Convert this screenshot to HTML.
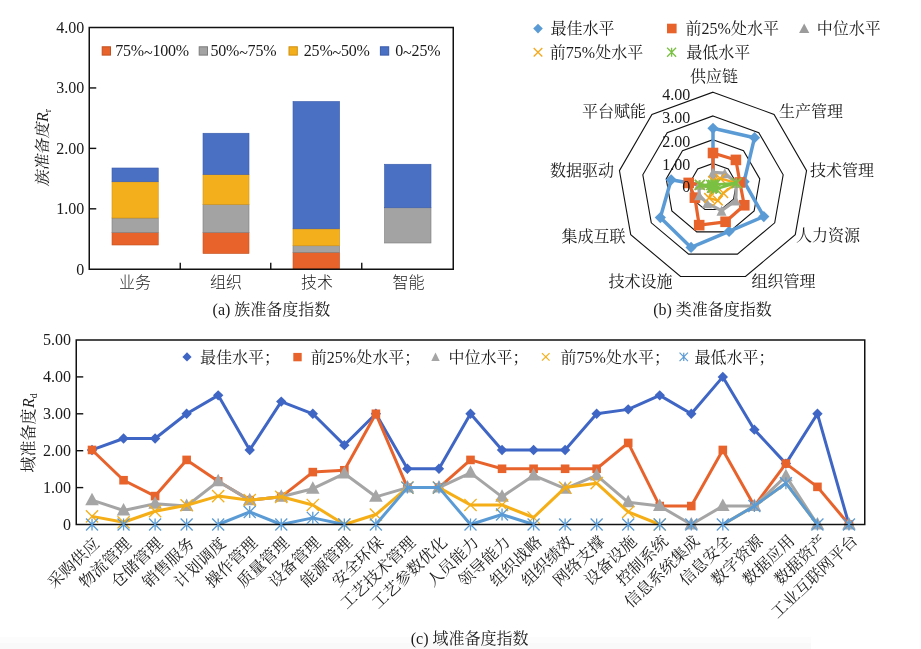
<!DOCTYPE html>
<html lang="zh-CN"><head><meta charset="utf-8"><title>准备度指数</title>
<style>
html,body{margin:0;padding:0;background:#fff;}
body{width:921px;height:649px;overflow:hidden;}
svg{display:block;}
.se{font-family:"Liberation Serif", "Noto Serif CJK SC", serif;}
.sa{font-family:"Liberation Sans", "Noto Sans CJK SC", sans-serif;}
</style></head><body>
<svg width="921" height="649" viewBox="0 0 921 649">
<rect width="921" height="649" fill="#ffffff"/>
<rect x="0" y="637" width="811" height="12" fill="#fcfcfc"/>
<rect x="0" y="643" width="811" height="6" fill="#f9f9f9"/>
<rect x="112.00" y="232.50" width="46.25" height="12.50" fill="#E8632C" stroke="#C4501E" stroke-width="0.6"/>
<rect x="112.00" y="218.00" width="46.25" height="14.50" fill="#A3A3A3" stroke="#7C7C7C" stroke-width="0.6"/>
<rect x="112.00" y="181.75" width="46.25" height="36.25" fill="#F4AF1D" stroke="#CF9010" stroke-width="0.6"/>
<rect x="112.00" y="168.00" width="46.25" height="13.75" fill="#4A70C4" stroke="#3A5BAA" stroke-width="0.6"/>
<rect x="203.00" y="232.50" width="46.00" height="21.00" fill="#E8632C" stroke="#C4501E" stroke-width="0.6"/>
<rect x="203.00" y="204.50" width="46.00" height="28.00" fill="#A3A3A3" stroke="#7C7C7C" stroke-width="0.6"/>
<rect x="203.00" y="174.50" width="46.00" height="30.00" fill="#F4AF1D" stroke="#CF9010" stroke-width="0.6"/>
<rect x="203.00" y="133.25" width="46.00" height="41.25" fill="#4A70C4" stroke="#3A5BAA" stroke-width="0.6"/>
<rect x="293.00" y="252.40" width="46.60" height="16.60" fill="#E8632C" stroke="#C4501E" stroke-width="0.6"/>
<rect x="293.00" y="245.75" width="46.60" height="6.65" fill="#A3A3A3" stroke="#7C7C7C" stroke-width="0.6"/>
<rect x="293.00" y="228.80" width="46.60" height="16.95" fill="#F4AF1D" stroke="#CF9010" stroke-width="0.6"/>
<rect x="293.00" y="101.50" width="46.60" height="127.30" fill="#4A70C4" stroke="#3A5BAA" stroke-width="0.6"/>
<rect x="384.50" y="207.75" width="46.50" height="35.25" fill="#A3A3A3" stroke="#7C7C7C" stroke-width="0.6"/>
<rect x="384.50" y="164.25" width="46.50" height="43.50" fill="#4A70C4" stroke="#3A5BAA" stroke-width="0.6"/>
<rect x="89.25" y="27.5" width="364.0" height="241.75" fill="none" stroke="#111111" stroke-width="1.5"/>
<text class="se" x="84.30" y="274.65" font-size="16" text-anchor="end" fill="#1a1a1a">0</text>
<line x1="89.25" y1="208.81" x2="96.25" y2="208.81" stroke="#111111" stroke-width="1.4"/>
<text class="se" x="84.30" y="214.21" font-size="16" text-anchor="end" fill="#1a1a1a">1.00</text>
<line x1="89.25" y1="148.38" x2="96.25" y2="148.38" stroke="#111111" stroke-width="1.4"/>
<text class="se" x="84.30" y="153.78" font-size="16" text-anchor="end" fill="#1a1a1a">2.00</text>
<line x1="89.25" y1="87.94" x2="96.25" y2="87.94" stroke="#111111" stroke-width="1.4"/>
<text class="se" x="84.30" y="93.34" font-size="16" text-anchor="end" fill="#1a1a1a">3.00</text>
<text class="se" x="84.30" y="32.90" font-size="16" text-anchor="end" fill="#1a1a1a">4.00</text>
<line x1="180.25" y1="269.25" x2="180.25" y2="262.75" stroke="#111111" stroke-width="1.4"/>
<line x1="270.75" y1="269.25" x2="270.75" y2="262.75" stroke="#111111" stroke-width="1.4"/>
<line x1="361.75" y1="269.25" x2="361.75" y2="262.75" stroke="#111111" stroke-width="1.4"/>
<text class="sa" x="135.00" y="288.30" font-size="16" text-anchor="middle" fill="#1a1a1a" font-weight="300">业务</text>
<text class="sa" x="226.00" y="288.30" font-size="16" text-anchor="middle" fill="#1a1a1a" font-weight="300">组织</text>
<text class="sa" x="317.00" y="288.30" font-size="16" text-anchor="middle" fill="#1a1a1a" font-weight="300">技术</text>
<text class="sa" x="408.50" y="288.30" font-size="16" text-anchor="middle" fill="#1a1a1a" font-weight="300">智能</text>
<rect x="102.2" y="46.8" width="8.3" height="8.3" fill="#E8632C" stroke="#C4501E" stroke-width="1"/>
<text class="se" x="115.20" y="55.90" font-size="16" text-anchor="start" fill="#1a1a1a" letter-spacing="-0.2">75%<tspan dy="2.2">~</tspan><tspan dy="-2.2">100%</tspan></text>
<rect x="199.2" y="46.8" width="8.3" height="8.3" fill="#A3A3A3" stroke="#7C7C7C" stroke-width="1"/>
<text class="se" x="210.40" y="55.90" font-size="16" text-anchor="start" fill="#1a1a1a" letter-spacing="-0.2">50%<tspan dy="2.2">~</tspan><tspan dy="-2.2">75%</tspan></text>
<rect x="289" y="46.8" width="8.3" height="8.3" fill="#F4AF1D" stroke="#CF9010" stroke-width="1"/>
<text class="se" x="303.80" y="55.90" font-size="16" text-anchor="start" fill="#1a1a1a" letter-spacing="-0.2">25%<tspan dy="2.2">~</tspan><tspan dy="-2.2">50%</tspan></text>
<rect x="380.4" y="46.8" width="8.3" height="8.3" fill="#4A70C4" stroke="#3A5BAA" stroke-width="1"/>
<text class="se" x="395.30" y="55.90" font-size="16" text-anchor="start" fill="#1a1a1a" letter-spacing="-0.2">0<tspan dy="2.2">~</tspan><tspan dy="-2.2">25%</tspan></text>
<g transform="translate(47.5,147) rotate(-90)" fill="#1a1a1a" font-size="16"><text class="se" transform="skewX(-11)" x="-39.5" y="0">族准备度</text><text class="se" x="25" y="0"><tspan font-style="italic">R</tspan><tspan font-size="10" dy="3">r</tspan></text></g>
<text class="se" x="271.50" y="315.00" font-size="16" text-anchor="middle" fill="#1a1a1a">(a) 族准备度指数</text>
<polygon points="713.00,163.45 728.27,169.01 736.39,183.08 733.57,199.07 721.12,209.52 704.88,209.52 692.43,199.07 689.61,183.08 697.73,169.01" fill="none" stroke="#111111" stroke-width="1.1"/>
<polygon points="713.00,139.70 743.53,150.81 759.78,178.95 754.14,210.95 729.25,231.84 696.75,231.84 671.86,210.95 666.22,178.95 682.47,150.81" fill="none" stroke="#111111" stroke-width="1.1"/>
<polygon points="713.00,115.95 758.80,132.62 783.17,174.83 774.70,222.82 737.37,254.15 688.63,254.15 651.30,222.83 642.83,174.83 667.20,132.62" fill="none" stroke="#111111" stroke-width="1.1"/>
<polygon points="713.00,92.20 774.06,114.43 806.56,170.70 795.27,234.70 745.49,276.47 680.51,276.47 630.73,234.70 619.44,170.70 651.94,114.43" fill="none" stroke="#111111" stroke-width="1.1"/>
<polygon points="713.00,128.30 754.52,137.71 744.11,181.71 763.80,216.53 729.08,231.39 691.07,247.46 660.35,217.60 671.13,179.82 713.00,187.20" fill="none" stroke="#5B9BD5" stroke-width="3.5" stroke-linejoin="round"/>
<path d="M713.00 122.70L718.60 128.30L713.00 133.90L707.40 128.30Z" fill="#5B9BD5"/>
<path d="M754.52 132.11L760.12 137.71L754.52 143.31L748.92 137.71Z" fill="#5B9BD5"/>
<path d="M744.11 176.11L749.71 181.71L744.11 187.31L738.51 181.71Z" fill="#5B9BD5"/>
<path d="M763.80 210.93L769.40 216.53L763.80 222.13L758.20 216.53Z" fill="#5B9BD5"/>
<path d="M729.08 225.79L734.68 231.39L729.08 236.99L723.48 231.39Z" fill="#5B9BD5"/>
<path d="M691.07 241.86L696.67 247.46L691.07 253.06L685.47 247.46Z" fill="#5B9BD5"/>
<path d="M660.35 212.00L665.95 217.60L660.35 223.20L654.75 217.60Z" fill="#5B9BD5"/>
<path d="M671.13 174.22L676.73 179.82L671.13 185.42L665.53 179.82Z" fill="#5B9BD5"/>
<path d="M713.00 181.60L718.60 187.20L713.00 192.80L707.40 187.20Z" fill="#5B9BD5"/>
<polygon points="713.00,153.00 735.90,159.91 739.90,182.46 744.26,205.25 725.59,221.79 699.19,225.14 694.90,197.65 688.68,182.91 713.00,187.20" fill="none" stroke="#E8632C" stroke-width="3.2" stroke-linejoin="round"/>
<rect x="707.70" y="147.70" width="10.60" height="10.60" fill="#E8632C"/>
<rect x="730.60" y="154.61" width="10.60" height="10.60" fill="#E8632C"/>
<rect x="734.60" y="177.16" width="10.60" height="10.60" fill="#E8632C"/>
<rect x="738.96" y="199.95" width="10.60" height="10.60" fill="#E8632C"/>
<rect x="720.29" y="216.49" width="10.60" height="10.60" fill="#E8632C"/>
<rect x="693.89" y="219.84" width="10.60" height="10.60" fill="#E8632C"/>
<rect x="689.60" y="192.35" width="10.60" height="10.60" fill="#E8632C"/>
<rect x="683.38" y="177.61" width="10.60" height="10.60" fill="#E8632C"/>
<rect x="707.70" y="181.90" width="10.60" height="10.60" fill="#E8632C"/>
<polygon points="713.00,172.47 724.75,173.19 736.39,183.08 735.83,200.38 721.53,210.63 707.15,203.27 699.22,195.16 698.97,184.73 713.00,187.20" fill="none" stroke="#A5A5A5" stroke-width="3.2" stroke-linejoin="round"/>
<path d="M713.00 167.47L718.00 177.47L708.00 177.47Z" fill="#A5A5A5"/>
<path d="M724.75 168.19L729.75 178.19L719.75 178.19Z" fill="#A5A5A5"/>
<path d="M736.39 178.08L741.39 188.08L731.39 188.08Z" fill="#A5A5A5"/>
<path d="M735.83 195.38L740.83 205.38L730.83 205.38Z" fill="#A5A5A5"/>
<path d="M721.53 205.63L726.53 215.63L716.53 215.63Z" fill="#A5A5A5"/>
<path d="M707.15 198.27L712.15 208.27L702.15 208.27Z" fill="#A5A5A5"/>
<path d="M699.22 190.16L704.22 200.16L694.22 200.16Z" fill="#A5A5A5"/>
<path d="M698.97 179.73L703.97 189.73L693.97 189.73Z" fill="#A5A5A5"/>
<path d="M713.00 182.20L718.00 192.20L708.00 192.20Z" fill="#A5A5A5"/>
<polygon points="713.00,180.79 720.33,178.47 736.39,183.08 723.28,193.14 717.87,200.59 709.10,197.91 713.00,187.20 699.90,184.89 713.00,187.20" fill="none" stroke="#F5A81C" stroke-width="2.4" stroke-linejoin="round"/>
<path d="M708.20 175.99L717.80 185.59M708.20 185.59L717.80 175.99" stroke="#F5A81C" stroke-width="1.5" fill="none"/>
<path d="M715.53 173.67L725.13 183.27M715.53 183.27L725.13 173.67" stroke="#F5A81C" stroke-width="1.5" fill="none"/>
<path d="M731.59 178.28L741.19 187.88M731.59 187.88L741.19 178.28" stroke="#F5A81C" stroke-width="1.5" fill="none"/>
<path d="M718.48 188.34L728.08 197.94M718.48 197.94L728.08 188.34" stroke="#F5A81C" stroke-width="1.5" fill="none"/>
<path d="M713.07 195.79L722.67 205.39M713.07 205.39L722.67 195.79" stroke="#F5A81C" stroke-width="1.5" fill="none"/>
<path d="M704.30 193.11L713.90 202.71M704.30 202.71L713.90 193.11" stroke="#F5A81C" stroke-width="1.5" fill="none"/>
<path d="M708.20 182.40L717.80 192.00M708.20 192.00L717.80 182.40" stroke="#F5A81C" stroke-width="1.5" fill="none"/>
<path d="M695.10 180.09L704.70 189.69M695.10 189.69L704.70 180.09" stroke="#F5A81C" stroke-width="1.5" fill="none"/>
<path d="M708.20 182.40L717.80 192.00M708.20 192.00L717.80 182.40" stroke="#F5A81C" stroke-width="1.5" fill="none"/>
<polygon points="713.00,184.82 715.29,184.47 736.39,183.08 716.09,188.98 713.00,187.20 713.00,187.20 711.97,187.79 699.90,184.89 711.17,185.02" fill="none" stroke="#7AC143" stroke-width="2.6" stroke-linejoin="round"/>
<path d="M708.00 179.82L718.00 189.82M708.00 189.82L718.00 179.82M713.00 179.82L713.00 189.82" stroke="#7AC143" stroke-width="1.6" fill="none"/>
<path d="M710.29 179.47L720.29 189.47M710.29 189.47L720.29 179.47M715.29 179.47L715.29 189.47" stroke="#7AC143" stroke-width="1.6" fill="none"/>
<path d="M731.39 178.08L741.39 188.08M731.39 188.08L741.39 178.08M736.39 178.08L736.39 188.08" stroke="#7AC143" stroke-width="1.6" fill="none"/>
<path d="M711.09 183.98L721.09 193.98M711.09 193.98L721.09 183.98M716.09 183.98L716.09 193.98" stroke="#7AC143" stroke-width="1.6" fill="none"/>
<path d="M708.00 182.20L718.00 192.20M708.00 192.20L718.00 182.20M713.00 182.20L713.00 192.20" stroke="#7AC143" stroke-width="1.6" fill="none"/>
<path d="M708.00 182.20L718.00 192.20M708.00 192.20L718.00 182.20M713.00 182.20L713.00 192.20" stroke="#7AC143" stroke-width="1.6" fill="none"/>
<path d="M706.97 182.79L716.97 192.79M706.97 192.79L716.97 182.79M711.97 182.79L711.97 192.79" stroke="#7AC143" stroke-width="1.6" fill="none"/>
<path d="M694.90 179.89L704.90 189.89M694.90 189.89L704.90 179.89M699.90 179.89L699.90 189.89" stroke="#7AC143" stroke-width="1.6" fill="none"/>
<path d="M706.17 180.02L716.17 190.02M706.17 190.02L716.17 180.02M711.17 180.02L711.17 190.02" stroke="#7AC143" stroke-width="1.6" fill="none"/>
<text class="se" x="690.30" y="100.40" font-size="16" text-anchor="end" fill="#1a1a1a">4.00</text>
<text class="se" x="690.30" y="123.40" font-size="16" text-anchor="end" fill="#1a1a1a">3.00</text>
<text class="se" x="690.30" y="147.00" font-size="16" text-anchor="end" fill="#1a1a1a">2.00</text>
<text class="se" x="690.30" y="169.80" font-size="16" text-anchor="end" fill="#1a1a1a">1.00</text>
<text class="se" x="690.30" y="192.30" font-size="16" text-anchor="end" fill="#1a1a1a">0</text>
<text class="se" x="714.00" y="81.80" font-size="16" text-anchor="middle" fill="#1a1a1a">供应链</text>
<text class="se" x="779.00" y="116.80" font-size="16" text-anchor="start" fill="#1a1a1a">生产管理</text>
<text class="se" x="810.00" y="175.80" font-size="16" text-anchor="start" fill="#1a1a1a">技术管理</text>
<text class="se" x="796.00" y="241.30" font-size="16" text-anchor="start" fill="#1a1a1a">人力资源</text>
<text class="se" x="751.50" y="287.30" font-size="16" text-anchor="start" fill="#1a1a1a">组织管理</text>
<text class="se" x="672.50" y="287.30" font-size="16" text-anchor="end" fill="#1a1a1a">技术设施</text>
<text class="se" x="625.50" y="242.30" font-size="16" text-anchor="end" fill="#1a1a1a">集成互联</text>
<text class="se" x="614.00" y="175.80" font-size="16" text-anchor="end" fill="#1a1a1a">数据驱动</text>
<text class="se" x="646.00" y="116.80" font-size="16" text-anchor="end" fill="#1a1a1a">平台赋能</text>
<path d="M538.00 23.80L542.80 28.60L538.00 33.40L533.20 28.60Z" fill="#5B9BD5"/>
<text class="se" x="550.60" y="34.00" font-size="16" text-anchor="start" fill="#1a1a1a">最佳水平</text>
<rect x="667.00" y="23.70" width="9.60" height="9.60" fill="#E8632C"/>
<text class="se" x="685.60" y="34.00" font-size="16" text-anchor="start" fill="#1a1a1a">前25%处水平</text>
<path d="M804.2 23.4L809.3 33.1L799.1 33.1Z" fill="#9b9b9b"/>
<text class="se" x="816.70" y="34.00" font-size="16" text-anchor="start" fill="#1a1a1a">中位水平</text>
<path d="M533.70 47.95L542.30 56.55M533.70 56.55L542.30 47.95" stroke="#F5A81C" stroke-width="1.3" fill="none"/>
<text class="se" x="549.80" y="57.60" font-size="16" text-anchor="start" fill="#1a1a1a">前75%处水平</text>
<path d="M667.10 47.75L676.10 56.75M667.10 56.75L676.10 47.75M671.60 47.75L671.60 56.75" stroke="#7AC143" stroke-width="1.3" fill="none"/>
<text class="se" x="686.20" y="57.60" font-size="16" text-anchor="start" fill="#1a1a1a">最低水平</text>
<text class="se" x="712.50" y="315.30" font-size="16" text-anchor="middle" fill="#1a1a1a">(b) 类准备度指数</text>
<path d="M92.02 449.96L123.56 438.52L155.10 438.52L186.64 413.80L218.18 395.35L249.72 449.96L281.26 401.62L312.80 413.80L344.34 445.17L375.88 413.80L407.42 468.78L438.96 468.78L470.50 413.80L502.04 449.96L533.58 449.96L565.12 449.96L596.66 413.80L628.20 409.37L659.74 395.35L691.28 413.80L722.82 376.90L754.36 429.67L785.90 463.62L817.44 413.80L848.98 524.50" fill="none" stroke="#3F66C4" stroke-width="3" stroke-linejoin="round"/>
<path d="M92.02 444.76L97.22 449.96L92.02 455.16L86.82 449.96Z" fill="#3F66C4"/>
<path d="M123.56 433.32L128.76 438.52L123.56 443.72L118.36 438.52Z" fill="#3F66C4"/>
<path d="M155.10 433.32L160.30 438.52L155.10 443.72L149.90 438.52Z" fill="#3F66C4"/>
<path d="M186.64 408.60L191.84 413.80L186.64 419.00L181.44 413.80Z" fill="#3F66C4"/>
<path d="M218.18 390.15L223.38 395.35L218.18 400.55L212.98 395.35Z" fill="#3F66C4"/>
<path d="M249.72 444.76L254.92 449.96L249.72 455.16L244.52 449.96Z" fill="#3F66C4"/>
<path d="M281.26 396.42L286.46 401.62L281.26 406.82L276.06 401.62Z" fill="#3F66C4"/>
<path d="M312.80 408.60L318.00 413.80L312.80 419.00L307.60 413.80Z" fill="#3F66C4"/>
<path d="M344.34 439.97L349.54 445.17L344.34 450.37L339.14 445.17Z" fill="#3F66C4"/>
<path d="M375.88 408.60L381.08 413.80L375.88 419.00L370.68 413.80Z" fill="#3F66C4"/>
<path d="M407.42 463.58L412.62 468.78L407.42 473.98L402.22 468.78Z" fill="#3F66C4"/>
<path d="M438.96 463.58L444.16 468.78L438.96 473.98L433.76 468.78Z" fill="#3F66C4"/>
<path d="M470.50 408.60L475.70 413.80L470.50 419.00L465.30 413.80Z" fill="#3F66C4"/>
<path d="M502.04 444.76L507.24 449.96L502.04 455.16L496.84 449.96Z" fill="#3F66C4"/>
<path d="M533.58 444.76L538.78 449.96L533.58 455.16L528.38 449.96Z" fill="#3F66C4"/>
<path d="M565.12 444.76L570.32 449.96L565.12 455.16L559.92 449.96Z" fill="#3F66C4"/>
<path d="M596.66 408.60L601.86 413.80L596.66 419.00L591.46 413.80Z" fill="#3F66C4"/>
<path d="M628.20 404.17L633.40 409.37L628.20 414.57L623.00 409.37Z" fill="#3F66C4"/>
<path d="M659.74 390.15L664.94 395.35L659.74 400.55L654.54 395.35Z" fill="#3F66C4"/>
<path d="M691.28 408.60L696.48 413.80L691.28 419.00L686.08 413.80Z" fill="#3F66C4"/>
<path d="M722.82 371.70L728.02 376.90L722.82 382.10L717.62 376.90Z" fill="#3F66C4"/>
<path d="M754.36 424.47L759.56 429.67L754.36 434.87L749.16 429.67Z" fill="#3F66C4"/>
<path d="M785.90 458.42L791.10 463.62L785.90 468.81L780.70 463.62Z" fill="#3F66C4"/>
<path d="M817.44 408.60L822.64 413.80L817.44 419.00L812.24 413.80Z" fill="#3F66C4"/>
<path d="M848.98 519.30L854.18 524.50L848.98 529.70L843.78 524.50Z" fill="#3F66C4"/>
<path d="M92.02 449.96L123.56 480.22L155.10 496.09L186.64 459.93L218.18 481.33L249.72 500.15L281.26 496.82L312.80 472.10L344.34 470.26L375.88 413.80L407.42 487.60L438.96 487.60L470.50 459.93L502.04 468.78L533.58 468.78L565.12 468.78L596.66 468.78L628.20 442.95L659.74 506.05L691.28 506.05L722.82 449.96L754.36 506.05L785.90 463.62L817.44 486.86L848.98 524.50" fill="none" stroke="#E8632C" stroke-width="3" stroke-linejoin="round"/>
<rect x="87.72" y="445.66" width="8.60" height="8.60" fill="#E8632C"/>
<rect x="119.26" y="475.92" width="8.60" height="8.60" fill="#E8632C"/>
<rect x="150.80" y="491.79" width="8.60" height="8.60" fill="#E8632C"/>
<rect x="182.34" y="455.62" width="8.60" height="8.60" fill="#E8632C"/>
<rect x="213.88" y="477.03" width="8.60" height="8.60" fill="#E8632C"/>
<rect x="245.42" y="495.85" width="8.60" height="8.60" fill="#E8632C"/>
<rect x="276.96" y="492.52" width="8.60" height="8.60" fill="#E8632C"/>
<rect x="308.50" y="467.80" width="8.60" height="8.60" fill="#E8632C"/>
<rect x="340.04" y="465.96" width="8.60" height="8.60" fill="#E8632C"/>
<rect x="371.58" y="409.50" width="8.60" height="8.60" fill="#E8632C"/>
<rect x="403.12" y="483.30" width="8.60" height="8.60" fill="#E8632C"/>
<rect x="434.66" y="483.30" width="8.60" height="8.60" fill="#E8632C"/>
<rect x="466.20" y="455.62" width="8.60" height="8.60" fill="#E8632C"/>
<rect x="497.74" y="464.48" width="8.60" height="8.60" fill="#E8632C"/>
<rect x="529.28" y="464.48" width="8.60" height="8.60" fill="#E8632C"/>
<rect x="560.82" y="464.48" width="8.60" height="8.60" fill="#E8632C"/>
<rect x="592.36" y="464.48" width="8.60" height="8.60" fill="#E8632C"/>
<rect x="623.90" y="438.65" width="8.60" height="8.60" fill="#E8632C"/>
<rect x="655.44" y="501.75" width="8.60" height="8.60" fill="#E8632C"/>
<rect x="686.98" y="501.75" width="8.60" height="8.60" fill="#E8632C"/>
<rect x="718.52" y="445.66" width="8.60" height="8.60" fill="#E8632C"/>
<rect x="750.06" y="501.75" width="8.60" height="8.60" fill="#E8632C"/>
<rect x="781.60" y="459.31" width="8.60" height="8.60" fill="#E8632C"/>
<rect x="813.14" y="482.56" width="8.60" height="8.60" fill="#E8632C"/>
<rect x="844.68" y="520.20" width="8.60" height="8.60" fill="#E8632C"/>
<path d="M92.02 500.15L123.56 510.48L155.10 503.84L186.64 506.05L218.18 481.33L249.72 500.15L281.26 496.82L312.80 488.71L344.34 473.58L375.88 496.82L407.42 487.60L438.96 487.60L470.50 472.84L502.04 496.82L533.58 475.42L565.12 488.71L596.66 475.42L628.20 502.36L659.74 506.05L691.28 524.50L722.82 506.05L754.36 506.05L785.90 476.16L817.44 524.50" fill="none" stroke="#A5A5A5" stroke-width="3" stroke-linejoin="round"/>
<path d="M92.02 492.65L98.82 505.15L85.22 505.15Z" fill="#A5A5A5"/>
<path d="M123.56 502.98L130.36 515.48L116.76 515.48Z" fill="#A5A5A5"/>
<path d="M155.10 496.34L161.90 508.84L148.30 508.84Z" fill="#A5A5A5"/>
<path d="M186.64 498.55L193.44 511.05L179.84 511.05Z" fill="#A5A5A5"/>
<path d="M218.18 473.83L224.98 486.33L211.38 486.33Z" fill="#A5A5A5"/>
<path d="M249.72 492.65L256.52 505.15L242.92 505.15Z" fill="#A5A5A5"/>
<path d="M281.26 489.32L288.06 501.82L274.46 501.82Z" fill="#A5A5A5"/>
<path d="M312.80 481.21L319.60 493.71L306.00 493.71Z" fill="#A5A5A5"/>
<path d="M344.34 466.08L351.14 478.58L337.54 478.58Z" fill="#A5A5A5"/>
<path d="M375.88 489.32L382.68 501.82L369.08 501.82Z" fill="#A5A5A5"/>
<path d="M407.42 480.10L414.22 492.60L400.62 492.60Z" fill="#A5A5A5"/>
<path d="M438.96 480.10L445.76 492.60L432.16 492.60Z" fill="#A5A5A5"/>
<path d="M470.50 465.34L477.30 477.84L463.70 477.84Z" fill="#A5A5A5"/>
<path d="M502.04 489.32L508.84 501.82L495.24 501.82Z" fill="#A5A5A5"/>
<path d="M533.58 467.92L540.38 480.42L526.78 480.42Z" fill="#A5A5A5"/>
<path d="M565.12 481.21L571.92 493.71L558.32 493.71Z" fill="#A5A5A5"/>
<path d="M596.66 467.92L603.46 480.42L589.86 480.42Z" fill="#A5A5A5"/>
<path d="M628.20 494.86L635.00 507.36L621.40 507.36Z" fill="#A5A5A5"/>
<path d="M659.74 498.55L666.54 511.05L652.94 511.05Z" fill="#A5A5A5"/>
<path d="M691.28 517.00L698.08 529.50L684.48 529.50Z" fill="#A5A5A5"/>
<path d="M722.82 498.55L729.62 511.05L716.02 511.05Z" fill="#A5A5A5"/>
<path d="M754.36 498.55L761.16 511.05L747.56 511.05Z" fill="#A5A5A5"/>
<path d="M785.90 468.66L792.70 481.16L779.10 481.16Z" fill="#A5A5A5"/>
<path d="M817.44 517.00L824.24 529.50L810.64 529.50Z" fill="#A5A5A5"/>
<path d="M848.98 517.00L855.78 529.50L842.18 529.50Z" fill="#A5A5A5"/>
<path d="M92.02 516.38L123.56 522.29L155.10 511.22L186.64 505.31L218.18 496.09L249.72 500.15L281.26 496.82L312.80 504.94L344.34 524.50L375.88 514.54L407.42 487.60L438.96 487.60L470.50 504.94L502.04 504.94L533.58 517.49L565.12 487.60L596.66 483.17L628.20 511.95L659.74 524.50M722.82 524.50L754.36 506.05L785.90 483.17L817.44 524.50" fill="none" stroke="#F5AE16" stroke-width="3" stroke-linejoin="round"/>
<path d="M85.92 510.28L98.12 522.48M85.92 522.48L98.12 510.28" stroke="#F5AE16" stroke-width="1.3" fill="none"/>
<path d="M117.46 516.19L129.66 528.39M117.46 528.39L129.66 516.19" stroke="#F5AE16" stroke-width="1.3" fill="none"/>
<path d="M149.00 505.12L161.20 517.32M149.00 517.32L161.20 505.12" stroke="#F5AE16" stroke-width="1.3" fill="none"/>
<path d="M180.54 499.21L192.74 511.41M180.54 511.41L192.74 499.21" stroke="#F5AE16" stroke-width="1.3" fill="none"/>
<path d="M212.08 489.99L224.28 502.19M212.08 502.19L224.28 489.99" stroke="#F5AE16" stroke-width="1.3" fill="none"/>
<path d="M243.62 494.05L255.82 506.25M243.62 506.25L255.82 494.05" stroke="#F5AE16" stroke-width="1.3" fill="none"/>
<path d="M275.16 490.72L287.36 502.93M275.16 502.93L287.36 490.72" stroke="#F5AE16" stroke-width="1.3" fill="none"/>
<path d="M306.70 498.84L318.90 511.04M306.70 511.04L318.90 498.84" stroke="#F5AE16" stroke-width="1.3" fill="none"/>
<path d="M338.24 518.40L350.44 530.60M338.24 530.60L350.44 518.40" stroke="#F5AE16" stroke-width="1.3" fill="none"/>
<path d="M369.78 508.44L381.98 520.64M369.78 520.64L381.98 508.44" stroke="#F5AE16" stroke-width="1.3" fill="none"/>
<path d="M401.32 481.50L413.52 493.70M401.32 493.70L413.52 481.50" stroke="#F5AE16" stroke-width="1.3" fill="none"/>
<path d="M432.86 481.50L445.06 493.70M432.86 493.70L445.06 481.50" stroke="#F5AE16" stroke-width="1.3" fill="none"/>
<path d="M464.40 498.84L476.60 511.04M464.40 511.04L476.60 498.84" stroke="#F5AE16" stroke-width="1.3" fill="none"/>
<path d="M495.94 498.84L508.14 511.04M495.94 511.04L508.14 498.84" stroke="#F5AE16" stroke-width="1.3" fill="none"/>
<path d="M527.48 511.39L539.68 523.59M527.48 523.59L539.68 511.39" stroke="#F5AE16" stroke-width="1.3" fill="none"/>
<path d="M559.02 481.50L571.22 493.70M559.02 493.70L571.22 481.50" stroke="#F5AE16" stroke-width="1.3" fill="none"/>
<path d="M590.56 477.07L602.76 489.27M590.56 489.27L602.76 477.07" stroke="#F5AE16" stroke-width="1.3" fill="none"/>
<path d="M622.10 505.85L634.30 518.05M622.10 518.05L634.30 505.85" stroke="#F5AE16" stroke-width="1.3" fill="none"/>
<path d="M653.64 518.40L665.84 530.60M653.64 530.60L665.84 518.40" stroke="#F5AE16" stroke-width="1.3" fill="none"/>
<path d="M218.18 524.50L249.72 511.95L281.26 524.50L312.80 517.86L344.34 524.50M375.88 524.50L407.42 487.60L438.96 487.60L470.50 524.50L502.04 514.54L533.58 524.50M722.82 524.50L754.36 506.05L785.90 483.17L817.44 524.50" fill="none" stroke="#5B9BD5" stroke-width="3" stroke-linejoin="round"/>
<rect x="76.25" y="340" width="788.5" height="184.5" fill="none" stroke="#111111" stroke-width="1.5"/>
<path d="M86.02 518.50L98.02 530.50M86.02 530.50L98.02 518.50M92.02 518.50L92.02 530.50" stroke="#5B9BD5" stroke-width="1.3" fill="none"/>
<path d="M117.56 518.50L129.56 530.50M117.56 530.50L129.56 518.50M123.56 518.50L123.56 530.50" stroke="#5B9BD5" stroke-width="1.3" fill="none"/>
<path d="M149.10 518.50L161.10 530.50M149.10 530.50L161.10 518.50M155.10 518.50L155.10 530.50" stroke="#5B9BD5" stroke-width="1.3" fill="none"/>
<path d="M180.64 518.50L192.64 530.50M180.64 530.50L192.64 518.50M186.64 518.50L186.64 530.50" stroke="#5B9BD5" stroke-width="1.3" fill="none"/>
<path d="M212.18 518.50L224.18 530.50M212.18 530.50L224.18 518.50M218.18 518.50L218.18 530.50" stroke="#5B9BD5" stroke-width="1.3" fill="none"/>
<path d="M243.72 505.95L255.72 517.95M243.72 517.95L255.72 505.95M249.72 505.95L249.72 517.95" stroke="#5B9BD5" stroke-width="1.3" fill="none"/>
<path d="M275.26 518.50L287.26 530.50M275.26 530.50L287.26 518.50M281.26 518.50L281.26 530.50" stroke="#5B9BD5" stroke-width="1.3" fill="none"/>
<path d="M306.80 511.86L318.80 523.86M306.80 523.86L318.80 511.86M312.80 511.86L312.80 523.86" stroke="#5B9BD5" stroke-width="1.3" fill="none"/>
<path d="M338.34 518.50L350.34 530.50M338.34 530.50L350.34 518.50M344.34 518.50L344.34 530.50" stroke="#5B9BD5" stroke-width="1.3" fill="none"/>
<path d="M369.88 518.50L381.88 530.50M369.88 530.50L381.88 518.50M375.88 518.50L375.88 530.50" stroke="#5B9BD5" stroke-width="1.3" fill="none"/>
<path d="M401.42 481.60L413.42 493.60M401.42 493.60L413.42 481.60M407.42 481.60L407.42 493.60" stroke="#5B9BD5" stroke-width="1.3" fill="none"/>
<path d="M432.96 481.60L444.96 493.60M432.96 493.60L444.96 481.60M438.96 481.60L438.96 493.60" stroke="#5B9BD5" stroke-width="1.3" fill="none"/>
<path d="M464.50 518.50L476.50 530.50M464.50 530.50L476.50 518.50M470.50 518.50L470.50 530.50" stroke="#5B9BD5" stroke-width="1.3" fill="none"/>
<path d="M496.04 508.54L508.04 520.54M496.04 520.54L508.04 508.54M502.04 508.54L502.04 520.54" stroke="#5B9BD5" stroke-width="1.3" fill="none"/>
<path d="M527.58 518.50L539.58 530.50M527.58 530.50L539.58 518.50M533.58 518.50L533.58 530.50" stroke="#5B9BD5" stroke-width="1.3" fill="none"/>
<path d="M559.12 518.50L571.12 530.50M559.12 530.50L571.12 518.50M565.12 518.50L565.12 530.50" stroke="#5B9BD5" stroke-width="1.3" fill="none"/>
<path d="M590.66 518.50L602.66 530.50M590.66 530.50L602.66 518.50M596.66 518.50L596.66 530.50" stroke="#5B9BD5" stroke-width="1.3" fill="none"/>
<path d="M622.20 518.50L634.20 530.50M622.20 530.50L634.20 518.50M628.20 518.50L628.20 530.50" stroke="#5B9BD5" stroke-width="1.3" fill="none"/>
<path d="M653.74 518.50L665.74 530.50M653.74 530.50L665.74 518.50M659.74 518.50L659.74 530.50" stroke="#5B9BD5" stroke-width="1.3" fill="none"/>
<path d="M685.28 518.50L697.28 530.50M685.28 530.50L697.28 518.50M691.28 518.50L691.28 530.50" stroke="#5B9BD5" stroke-width="1.3" fill="none"/>
<path d="M716.82 518.50L728.82 530.50M716.82 530.50L728.82 518.50M722.82 518.50L722.82 530.50" stroke="#5B9BD5" stroke-width="1.3" fill="none"/>
<path d="M748.36 500.05L760.36 512.05M748.36 512.05L760.36 500.05M754.36 500.05L754.36 512.05" stroke="#5B9BD5" stroke-width="1.3" fill="none"/>
<path d="M779.90 477.17L791.90 489.17M779.90 489.17L791.90 477.17M785.90 477.17L785.90 489.17" stroke="#5B9BD5" stroke-width="1.3" fill="none"/>
<path d="M811.44 518.50L823.44 530.50M811.44 530.50L823.44 518.50M817.44 518.50L817.44 530.50" stroke="#5B9BD5" stroke-width="1.3" fill="none"/>
<path d="M842.98 518.50L854.98 530.50M842.98 530.50L854.98 518.50M848.98 518.50L848.98 530.50" stroke="#5B9BD5" stroke-width="1.3" fill="none"/>
<text class="se" x="71.00" y="529.90" font-size="16" text-anchor="end" fill="#1a1a1a">0</text>
<line x1="76.25" y1="487.60" x2="83.25" y2="487.60" stroke="#111111" stroke-width="1.4"/>
<text class="se" x="71.00" y="493.00" font-size="16" text-anchor="end" fill="#1a1a1a">1.00</text>
<line x1="76.25" y1="450.70" x2="83.25" y2="450.70" stroke="#111111" stroke-width="1.4"/>
<text class="se" x="71.00" y="456.10" font-size="16" text-anchor="end" fill="#1a1a1a">2.00</text>
<line x1="76.25" y1="413.80" x2="83.25" y2="413.80" stroke="#111111" stroke-width="1.4"/>
<text class="se" x="71.00" y="419.20" font-size="16" text-anchor="end" fill="#1a1a1a">3.00</text>
<line x1="76.25" y1="376.90" x2="83.25" y2="376.90" stroke="#111111" stroke-width="1.4"/>
<text class="se" x="71.00" y="382.30" font-size="16" text-anchor="end" fill="#1a1a1a">4.00</text>
<text class="se" x="71.00" y="345.40" font-size="16" text-anchor="end" fill="#1a1a1a">5.00</text>
<text class="se" transform="translate(100.52,545.00) rotate(-43.5)" font-size="16" text-anchor="end" fill="#1a1a1a">采购供应</text>
<text class="se" transform="translate(132.11,544.87) rotate(-43.5)" font-size="16" text-anchor="end" fill="#1a1a1a">物流管理</text>
<text class="se" transform="translate(163.70,544.73) rotate(-43.5)" font-size="16" text-anchor="end" fill="#1a1a1a">仓储管理</text>
<text class="se" transform="translate(195.29,544.60) rotate(-43.5)" font-size="16" text-anchor="end" fill="#1a1a1a">销售服务</text>
<text class="se" transform="translate(226.88,544.47) rotate(-43.5)" font-size="16" text-anchor="end" fill="#1a1a1a">计划调度</text>
<text class="se" transform="translate(258.47,544.33) rotate(-43.5)" font-size="16" text-anchor="end" fill="#1a1a1a">操作管理</text>
<text class="se" transform="translate(290.06,544.20) rotate(-43.5)" font-size="16" text-anchor="end" fill="#1a1a1a">质量管理</text>
<text class="se" transform="translate(321.65,544.07) rotate(-43.5)" font-size="16" text-anchor="end" fill="#1a1a1a">设备管理</text>
<text class="se" transform="translate(353.24,543.93) rotate(-43.5)" font-size="16" text-anchor="end" fill="#1a1a1a">能源管理</text>
<text class="se" transform="translate(384.83,543.80) rotate(-43.5)" font-size="16" text-anchor="end" fill="#1a1a1a">安全环保</text>
<text class="se" transform="translate(416.42,543.67) rotate(-43.5)" font-size="16" text-anchor="end" fill="#1a1a1a">工艺技术管理</text>
<text class="se" transform="translate(448.01,543.53) rotate(-43.5)" font-size="16" text-anchor="end" fill="#1a1a1a">工艺参数优化</text>
<text class="se" transform="translate(479.60,543.40) rotate(-43.5)" font-size="16" text-anchor="end" fill="#1a1a1a">人员能力</text>
<text class="se" transform="translate(511.19,543.27) rotate(-43.5)" font-size="16" text-anchor="end" fill="#1a1a1a">领导能力</text>
<text class="se" transform="translate(542.78,543.13) rotate(-43.5)" font-size="16" text-anchor="end" fill="#1a1a1a">组织战略</text>
<text class="se" transform="translate(574.37,543.00) rotate(-43.5)" font-size="16" text-anchor="end" fill="#1a1a1a">组织绩效</text>
<text class="se" transform="translate(605.96,542.87) rotate(-43.5)" font-size="16" text-anchor="end" fill="#1a1a1a">网络支撑</text>
<text class="se" transform="translate(637.55,542.73) rotate(-43.5)" font-size="16" text-anchor="end" fill="#1a1a1a">设备设施</text>
<text class="se" transform="translate(669.14,542.60) rotate(-43.5)" font-size="16" text-anchor="end" fill="#1a1a1a">控制系统</text>
<text class="se" transform="translate(700.73,542.47) rotate(-43.5)" font-size="16" text-anchor="end" fill="#1a1a1a">信息系统集成</text>
<text class="se" transform="translate(732.32,542.33) rotate(-43.5)" font-size="16" text-anchor="end" fill="#1a1a1a">信息安全</text>
<text class="se" transform="translate(763.91,542.20) rotate(-43.5)" font-size="16" text-anchor="end" fill="#1a1a1a">数字资源</text>
<text class="se" transform="translate(795.50,542.07) rotate(-43.5)" font-size="16" text-anchor="end" fill="#1a1a1a">数据应用</text>
<text class="se" transform="translate(827.09,541.93) rotate(-43.5)" font-size="16" text-anchor="end" fill="#1a1a1a">数据资产</text>
<text class="se" transform="translate(858.68,541.80) rotate(-43.5)" font-size="16" text-anchor="end" fill="#1a1a1a">工业互联网平台</text>
<path d="M187.00 352.30L191.60 356.90L187.00 361.50L182.40 356.90Z" fill="#3F66C4"/>
<text class="se" x="200.00" y="363.00" font-size="16" text-anchor="start" fill="#1a1a1a">最佳水平；</text>
<rect x="293.30" y="352.90" width="8.40" height="8.40" fill="#E8632C"/>
<text class="se" x="310.80" y="363.00" font-size="16" text-anchor="start" fill="#1a1a1a">前25%处水平；</text>
<path d="M435.50 352.50L439.70 360.90L431.30 360.90Z" fill="#A5A5A5"/>
<text class="se" x="448.40" y="363.00" font-size="16" text-anchor="start" fill="#1a1a1a">中位水平；</text>
<path d="M541.95 353.10L549.55 360.70M541.95 360.70L549.55 353.10" stroke="#F5AE16" stroke-width="1.2" fill="none"/>
<text class="se" x="560.60" y="363.00" font-size="16" text-anchor="start" fill="#1a1a1a">前75%处水平；</text>
<path d="M679.55 352.70L687.95 361.10M679.55 361.10L687.95 352.70M683.75 352.70L683.75 361.10" stroke="#5B9BD5" stroke-width="1.2" fill="none"/>
<text class="se" x="694.60" y="363.00" font-size="16" text-anchor="start" fill="#1a1a1a">最低水平；</text>
<g transform="translate(34.2,433) rotate(-90)" fill="#1a1a1a" font-size="16"><text class="se" x="-39.5" y="0">域准备度</text><text class="se" x="25" y="0"><tspan font-style="italic">R</tspan><tspan font-size="10" dy="3">d</tspan></text></g>
<text class="se" x="469.60" y="643.50" font-size="16" text-anchor="middle" fill="#1a1a1a">(c) 域准备度指数</text>
</svg>
</body></html>
